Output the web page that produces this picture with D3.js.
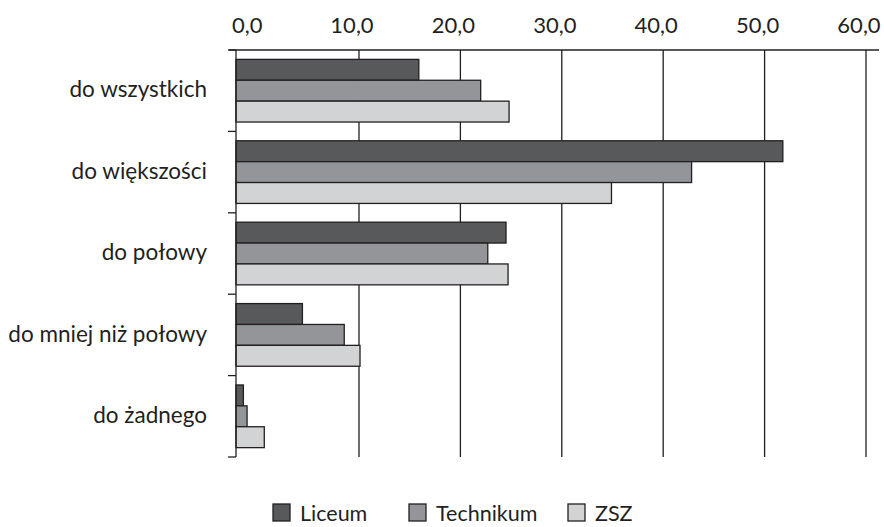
<!DOCTYPE html>
<html>
<head>
<meta charset="utf-8">
<script src="https://cdn.jsdelivr.net/npm/d3@7"></script>
<style>
  body { margin: 0; background: #fff; }
  text { font-family: Lato, "Open Sans", sans-serif; fill: #231f20; }
</style>
</head>
<body>
<div class="holder"></div>
<script>
// data
var categories = ["do wszystkich", "do większości", "do połowy", "do mniej niż połowy", "do żadnego"];
var seriesNames = ["Liceum", "Technikum", "ZSZ"];
var liceum = [15.9, 51.8, 24.5, 5.4, 0.6];
var technikum = [22.0, 42.8, 22.7, 8.8, 0.9];
var zsz = [24.8, 34.9, 24.7, 10.1, 2.3];
var tickValues = [0, 10, 20, 30, 40, 50, 60];

var colors = ["#58595b", "#939598", "#d1d3d4"];
var strokeColor = "#231f20";

var width = 884,
    height = 527;

var series = [liceum, technikum, zsz];

// the original axis is a bit stretched between 0 and 10
var x = d3.scaleLinear()
    .domain([0, 10, 60])
    .range([236, 359, 866]);

var y = d3.scaleBand()
    .domain(categories)
    .range([50, 457])
    .paddingInner(0.23)
    .paddingOuter(0.115);

var ySeries = d3.scaleBand()
    .domain(seriesNames)
    .range([0, y.bandwidth()]);

var fmt = function(d) { return d3.format(".1f")(d).replace(".", ","); };

var svg = d3.select(".holder").append("svg")
    .attr("width", width)
    .attr("height", height);

// gridlines
svg.append("g")
    .attr("class", "grid")
    .selectAll("line")
    .data(tickValues.slice(1))
    .enter().append("line")
    .attr("x1", d => x(d))
    .attr("x2", d => x(d))
    .attr("y1", 50)
    .attr("y2", 457)
    .style("stroke", strokeColor)
    .style("stroke-width", 1.3);

// tick labels on top
svg.append("g")
    .attr("class", "ticks")
    .selectAll("text")
    .data(tickValues)
    .enter().append("text")
    .attr("x", d => d == 0 ? x(d) - 4 : x(d) - 7)
    .attr("y", 32.5)
    .attr("text-anchor", d => d == 0 ? "start" : "middle")
    .style("font-size", "22px")
    .text(fmt);

// bars
var groups = svg.append("g")
    .attr("class", "bars")
    .selectAll("g")
    .data(categories)
    .enter().append("g")
    .attr("transform", d => "translate(0," + y(d) + ")");

groups.selectAll("rect")
    .data((d, i) => seriesNames.map((s, j) => ({ name: s, value: series[j][i], idx: j })))
    .enter().append("rect")
    .attr("x", x(0))
    .attr("y", d => ySeries(d.name))
    .attr("width", d => x(d.value) - x(0))
    .attr("height", ySeries.bandwidth())
    .style("fill", d => colors[d.idx])
    .style("stroke", strokeColor)
    .style("stroke-width", 1.3);

// axes lines
svg.append("line")
    .attr("x1", 229).attr("x2", 879)
    .attr("y1", 50).attr("y2", 50)
    .style("stroke", strokeColor)
    .style("stroke-width", 1.3);

svg.append("line")
    .attr("x1", x(0)).attr("x2", x(0))
    .attr("y1", 50).attr("y2", 457)
    .style("stroke", strokeColor)
    .style("stroke-width", 1.3);

// category ticks at band borders
var borders = categories.map(c => y(c) - y.step() * y.paddingInner() / 2);
borders.push(457);
svg.append("g")
    .selectAll("line")
    .data(borders)
    .enter().append("line")
    .attr("x1", 228).attr("x2", x(0))
    .attr("y1", d => d).attr("y2", d => d)
    .style("stroke", strokeColor)
    .style("stroke-width", 1.3);

// category labels
svg.append("g")
    .attr("class", "labels")
    .selectAll("text")
    .data(categories)
    .enter().append("text")
    .attr("x", 207)
    .attr("y", d => y(d) + y.bandwidth() / 2)
    .attr("dy", "0.3em")
    .attr("text-anchor", "end")
    .style("font-size", "22.5px")
    .text(d => d);

// legend
var legendX = [273, 409, 568];
var legend = svg.append("g")
    .attr("class", "legend")
    .selectAll("g")
    .data(seriesNames)
    .enter().append("g")
    .attr("transform", (d, i) => "translate(" + legendX[i] + ",504)");

legend.append("rect")
    .attr("width", 17)
    .attr("height", 17)
    .style("fill", (d, i) => colors[i])
    .style("stroke", strokeColor)
    .style("stroke-width", 1.3);

legend.append("text")
    .attr("x", 27)
    .attr("y", 17)
    .style("font-size", "21.5px")
    .text(d => d);
</script>
</body>
</html>
